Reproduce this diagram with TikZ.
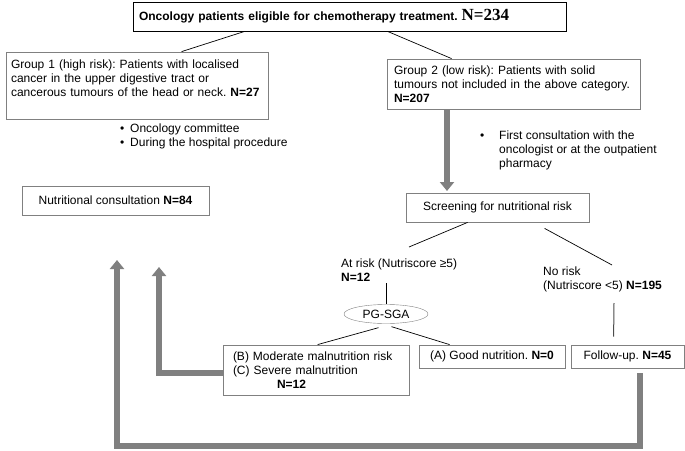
\documentclass[tikz,border=0pt]{standalone}
\usepackage{fontspec}
\setmainfont{Liberation Sans}
\newfontfamily\serifbf{Liberation Serif}
\usetikzlibrary{calc, arrows.meta, shapes.geometric}

\begin{document}
\begin{tikzpicture}[x=1pt, y=-1pt,
	every node/.style={font=\fontsize{12}{14}\selectfont\frenchspacing},
	box/.style={draw=gray, line width=0.8pt, inner ysep=0pt, align=left},
	txt/.style={inner sep=0pt, align=left, anchor=north west},
	link/.style={line width=0.7pt},
	fat/.style={draw=gray, line width=6pt, line join=miter},
	fatarrow/.style={fat, -{Triangle[width=14pt, length=9pt]}}]
	\useasboundingbox (0,0) rectangle (685,450);

	% boxes
	\node[box, draw=black, text width=421pt, inner xsep=6pt, minimum height=29pt] (onco) at (349.5,16.5)
		{\bfseries Oncology patients eligible for chemotherapy treatment. {\serifbf\fontsize{17}{17}\selectfont N=234}};
	\node[box, text width=252pt, inner xsep=5pt, minimum height=67pt] (grp1) at (137,85.5)
		{Group 1 (high risk): Patients with localised\\cancer in the upper digestive tract or\\cancerous tumours of the head or neck. \textbf{N=27}\\\mbox{}};
	\node[box, text width=239pt, inner xsep=7pt, minimum height=50pt] (grp2) at (513.5,84)
		{Group 2 (low risk): Patients with solid\\tumours not included in the above category.\\\textbf{N=207}};
	\node[box, minimum width=183pt, minimum height=29pt] (screen) at (497.5,207.5) {Screening for nutritional risk};
	\node[box, minimum width=187pt, minimum height=29pt] (consult) at (115.5,200.5) {Nutritional consultation \textbf{N=84}};
	\node[draw=gray, ellipse, minimum width=84pt, minimum height=19pt, inner sep=0pt] (pgsga) at (386,314) {PG-SGA};
	\node[box, text width=166pt, inner xsep=10pt, minimum height=50pt] (bbox) at (316,370)
		{(B) Moderate malnutrition risk\\(C) Severe malnutrition\\\hspace*{44pt}\textbf{N=12}};
	\node[box, minimum width=146pt, minimum height=23pt] (abox) at (492,356.5) {(A) Good nutrition. \textbf{N=0}};
	\node[box, minimum width=113pt, minimum height=23pt] (fu) at (627.5,356.5) {Follow-up. \textbf{N=45}};

	% free text
	\node[txt] (notes1) at (120,124) {\makebox[10pt][l]{\textbullet}Oncology committee\\\makebox[10pt][l]{\textbullet}During the hospital procedure};
	\node[txt] (notes2) at (480,131) {\makebox[19pt][l]{\textbullet}First consultation with the\\\hspace*{19pt}oncologist or at the outpatient\\\hspace*{19pt}pharmacy};
	\node[txt] (atrisk) at (341,259) {At risk (Nutriscore ≥5)\\\textbf{N=12}};
	\node[txt] (norisk) at (543,267) {No risk\\(Nutriscore <5) \textbf{N=195}};

	% thin links
	\draw[link] ($(onco.south west)+(112,0)$) -- ($(grp1.north west)+(176,0)$);
	\draw[link] ($(onco.south west)+(255,0)$) -- ($(grp2.north west)+(65,0)$);
	\draw[link] ($(screen.south west)+(62,0)$) -- ($(atrisk.north west)+(68,-12)$);
	\draw[link] ($(screen.south west)+(139,6)$) -- ($(norisk.north west)+(69,-2)$);
	\draw[link, line width=1pt, draw=gray!60!black] ($(norisk.north west)+(71,36)$) -- ($(fu.north west)+(43,-8)$);
	\draw[link] ($(atrisk.north west)+(45,24)$) -- (pgsga.north);
	\draw[link] ($(pgsga.250)+(-4,4)$) -- ($(bbox.north west)+(95,0)$);
	\draw[link] ($(pgsga.290)+(2,3)$) -- ($(abox.north west)+(31,0)$);

	% thick arrows
	\coordinate (upA) at (117,260);
	\coordinate (upB) at (159,267);
	\coordinate (downC) at (447,191);
	\draw[fatarrow] (grp2.south -| downC) -- (downC);
	\draw[fatarrow] ($(fu.south)+(12.5,5)$) -- ++(0,73) -| (upA);
	\draw[fatarrow] ($(bbox.west)+(0,3)$) -| (upB);
\end{tikzpicture}
\end{document}
